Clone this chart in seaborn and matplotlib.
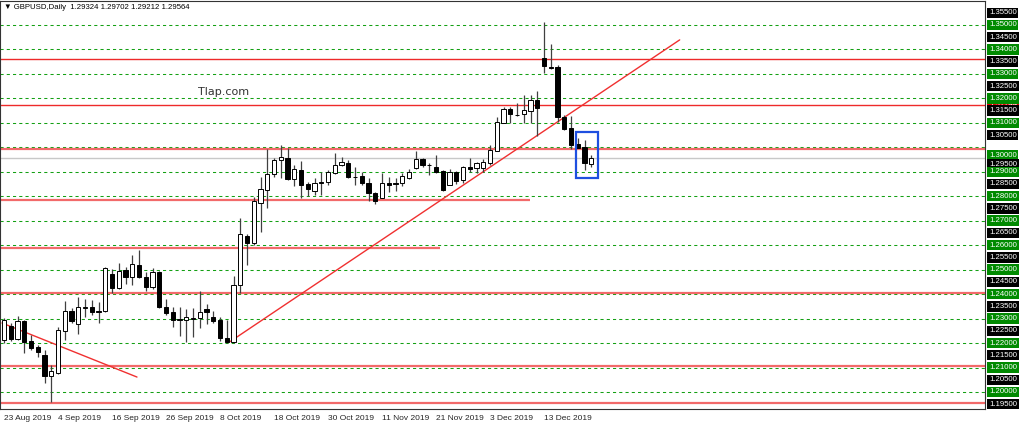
import numpy as np
import pandas as pd
import matplotlib
matplotlib.use("Agg")
import matplotlib.pyplot as plt
import seaborn as sns

# GBPUSD daily candles, 23 Aug 2019 .. 24 Dec 2019
opens = [1.2212, 1.2270, 1.2216, 1.2290, 1.2208, 1.2184, 1.2151, 1.2065, 1.2078, 1.2249,
         1.2331, 1.2278, 1.2343, 1.2347, 1.2331, 1.2331, 1.2482, 1.2425, 1.2499, 1.2470,
         1.2519, 1.2470, 1.2429, 1.2490, 1.2347, 1.2327, 1.2296, 1.2294, 1.2300, 1.2302,
         1.2339, 1.2306, 1.2294, 1.2221, 1.2204, 1.2437, 1.2637, 1.2609, 1.2772, 1.2826,
         1.2891, 1.2948, 1.2956, 1.2870, 1.2907, 1.2850, 1.2821, 1.2858, 1.2858, 1.2895,
         1.2928, 1.2936, 1.2879, 1.2883, 1.2854, 1.2813, 1.2793, 1.2854, 1.2854, 1.2854,
         1.2875, 1.2915, 1.2952, 1.2928, 1.2919, 1.2903, 1.2846, 1.2899, 1.2866, 1.2919,
         1.2915, 1.2915, 1.2936, 1.2985, 1.3099, 1.3156, 1.3132, 1.3136, 1.3148, 1.3193,
         1.3365, 1.3328, 1.3328, 1.3124, 1.3079, 1.3013, 1.3001, 1.29324]
highs = [1.2302, 1.2282, 1.2311, 1.2294, 1.2233, 1.2192, 1.2172, 1.2110, 1.2266, 1.2372,
         1.2343, 1.2388, 1.2380, 1.2376, 1.2368, 1.2511, 1.2503, 1.2527, 1.2511, 1.2560,
         1.2580, 1.2490, 1.2507, 1.2494, 1.2380, 1.2347, 1.2347, 1.2339, 1.2343, 1.2413,
         1.2360, 1.2331, 1.2306, 1.2294, 1.2474, 1.2711, 1.2646, 1.2797, 1.2879, 1.2993,
         1.2956, 1.3009, 1.2997, 1.2928, 1.2944, 1.2858, 1.2875, 1.2899, 1.2907, 1.2977,
         1.2960, 1.2948, 1.2919, 1.2899, 1.2875, 1.2817, 1.2895, 1.2879, 1.2875, 1.2895,
         1.2911, 1.2985, 1.2956, 1.2936, 1.2968, 1.2907, 1.2911, 1.2903, 1.2924, 1.2956,
         1.2940, 1.2952, 1.3009, 1.3124, 1.3165, 1.3165, 1.3181, 1.3214, 1.3214, 1.3230,
         1.3512, 1.3422, 1.3336, 1.3132, 1.3128, 1.3038, 1.3030, 1.29702]
lows = [1.2200, 1.2208, 1.2212, 1.2159, 1.2172, 1.2143, 1.2037, 1.1959, 1.2074, 1.2212,
        1.2282, 1.2237, 1.2306, 1.2315, 1.2282, 1.2327, 1.2405, 1.2421, 1.2441, 1.2437,
        1.2466, 1.2413, 1.2421, 1.2343, 1.2315, 1.2266, 1.2229, 1.2204, 1.2225, 1.2261,
        1.2278, 1.2282, 1.2208, 1.2202, 1.2200, 1.2405, 1.2519, 1.2601, 1.2654, 1.2752,
        1.2879, 1.2875, 1.2866, 1.2842, 1.2793, 1.2801, 1.2805, 1.2805, 1.2846, 1.2891,
        1.2924, 1.2875, 1.2846, 1.2846, 1.2781, 1.2768, 1.2793, 1.2817, 1.2821, 1.2842,
        1.2870, 1.2911, 1.2919, 1.2887, 1.2895, 1.2821, 1.2846, 1.2850, 1.2854, 1.2899,
        1.2895, 1.2899, 1.2928, 1.2985, 1.3099, 1.3099, 1.3128, 1.3099, 1.3099, 1.3046,
        1.3304, 1.3320, 1.3103, 1.3071, 1.2993, 1.2997, 1.2907, 1.29212]
closes = [1.2294, 1.2216, 1.2290, 1.2204, 1.2180, 1.2163, 1.2065, 1.2086, 1.2253, 1.2331,
          1.2290, 1.2347, 1.2347, 1.2327, 1.2327, 1.2507, 1.2425, 1.2495, 1.2470, 1.2523,
          1.2470, 1.2429, 1.2490, 1.2347, 1.2323, 1.2294, 1.2300, 1.2306, 1.2304, 1.2327,
          1.2327, 1.2290, 1.2221, 1.2204, 1.2437, 1.2646, 1.2609, 1.2781, 1.2830, 1.2891,
          1.2948, 1.2960, 1.2870, 1.2911, 1.2846, 1.2830, 1.2854, 1.2854, 1.2899, 1.2928,
          1.2940, 1.2879, 1.2877, 1.2854, 1.2813, 1.2781, 1.2854, 1.2846, 1.2850, 1.2883,
          1.2899, 1.2952, 1.2928, 1.2926, 1.2899, 1.2826, 1.2899, 1.2862, 1.2919, 1.2911,
          1.2936, 1.2940, 1.2989, 1.3103, 1.3156, 1.3136, 1.3130, 1.3152, 1.3193, 1.3161,
          1.3332, 1.3326, 1.3124, 1.3075, 1.3009, 1.2997, 1.2936, 1.29564]

date_labels = ["23 Aug 2019", "4 Sep 2019", "16 Sep 2019", "26 Sep 2019", "8 Oct 2019",
               "18 Oct 2019", "30 Oct 2019", "11 Nov 2019", "21 Nov 2019", "3 Dec 2019",
               "13 Dec 2019"]
date_bars = [0, 8, 16, 24, 32, 40, 48, 56, 64, 72, 80]

price_labels = ["1.35500", "1.35000", "1.34500", "1.34000", "1.33500", "1.33000", "1.32500",
                "1.32000", "1.31500", "1.31000", "1.30500", "1.30000", "1.29500", "1.29000",
                "1.28500", "1.28000", "1.27500", "1.27000", "1.26500", "1.26000", "1.25500",
                "1.25000", "1.24500", "1.24000", "1.23500", "1.23000", "1.22500", "1.22000",
                "1.21500", "1.21000", "1.20500", "1.20000", "1.19500"]
grid_levels = [1.35, 1.34, 1.33, 1.32, 1.31, 1.30, 1.29, 1.28, 1.27, 1.26,
               1.25, 1.24, 1.23, 1.22, 1.21, 1.20]

# horizontal support / resistance lines
upper_levels = [1.3361, 1.3173]
lower_levels = [1.2993, 1.2403, 1.2105, 1.1955]
part_levels = [1.2785, 1.2588]
part_ends = [77.9, 64.6]

# trend lines (bar index, price)
down_x = [-0.3, 19.7]
down_y = [1.2282, 1.2061]
up_x = [33.5, 100.1]
up_y = [1.2206, 1.3439]

header = "\u25bc GBPUSD,Daily  1.29324 1.29702 1.29212 1.29564"
last_price = 1.29564

df = pd.DataFrame({"open": opens, "high": highs, "low": lows, "close": closes})
df["bar"] = np.arange(len(df))

sns.set_style("white")
plt.rcParams["font.family"] = ["Liberation Sans", "DejaVu Sans"]

fig = plt.figure(figsize=(10.24, 4.29), dpi=100)
ax = fig.add_axes([0, 20 / 429, 985 / 1024, 408 / 429])
ax.set_xlim(-0.593, 145.33)
ax.set_ylim(1.19304, 1.35979)

# grid
for lv in grid_levels:
    ax.axhline(lv, color="#14a014", lw=0.75, ls=(0, (3, 3)), zorder=1)

# support / resistance
for lv in upper_levels:
    ax.axhline(lv, color="#ee2a2a", lw=1.0, zorder=1.5)
for lv in lower_levels:
    ax.axhline(lv, color="#f26a6a", lw=1.6, zorder=1.5)
for lv, end in zip(part_levels, part_ends):
    ax.hlines(lv, -1, end, color="#f26a6a", lw=1.6, zorder=1.5)
ax.axhline(last_price, color="#c8c8c8", lw=1, zorder=1.2)

sns.lineplot(x=down_x, y=down_y, ax=ax, color="#f03030", lw=1, zorder=1.6)
sns.lineplot(x=up_x, y=up_y, ax=ax, color="#f03030", lw=1, zorder=1.6)

# candles
ax.vlines(df["bar"], df["low"], df["high"], color="#404040", lw=0.9, zorder=2)
lo = df[["open", "close"]].min(axis=1)
hi = df[["open", "close"]].max(axis=1)
height = np.maximum(hi - lo, 0.00005)
body_col = np.where(df["close"] >= df["open"], "white", "black")
ax.bar(df["bar"], height, bottom=lo, width=0.6, color=body_col,
       edgecolor="black", linewidth=0.7, zorder=3)

# blue highlight box
rect = plt.Rectangle((84.74, 1.2875), 88.0 - 84.74, 1.3063 - 1.2875, fill=False,
                     edgecolor="#1e4fe0", lw=1.6, zorder=4)
ax.add_patch(rect)

ax.text(28.7, 1.3226, "Tlap.com", fontsize=8, color="#333333",
        family=["DejaVu Sans"], va="center", ha="left")
ax.text(0.004, 0.985, header, transform=ax.transAxes, fontsize=5.6,
        va="center", ha="left", color="black")

# right price scale
label_shift = {"1.30000": -0.0033, "1.29500": -0.0020}
ax.text(1.004, 1.3173, "1.31744", transform=ax.get_yaxis_transform(), fontsize=5.6,
        color="white", va="center", ha="left", clip_on=False, zorder=5,
        bbox=dict(boxstyle="square,pad=0.22", fc="#e00000", ec="none"))
for lab in price_labels:
    v = float(lab) + label_shift.get(lab, 0)
    fc = "#008a00" if lab[-3] == "0" else "black"
    ax.text(1.004, v, lab, transform=ax.get_yaxis_transform(), fontsize=5.6,
            color="white", va="center", ha="left", clip_on=False, zorder=6,
            bbox=dict(boxstyle="square,pad=0.22", fc=fc, ec="none"))

# dates
ax.set_xticks(date_bars)
ax.set_xticklabels(date_labels, fontsize=6, ha="left")
ax.tick_params(axis="x", direction="out", length=3, width=0.8, color="#333333", pad=1)
ax.set_yticks([])
for s in ax.spines.values():
    s.set_color("#333333")
    s.set_linewidth(0.8)

fig.savefig("out.png", dpi=100)
